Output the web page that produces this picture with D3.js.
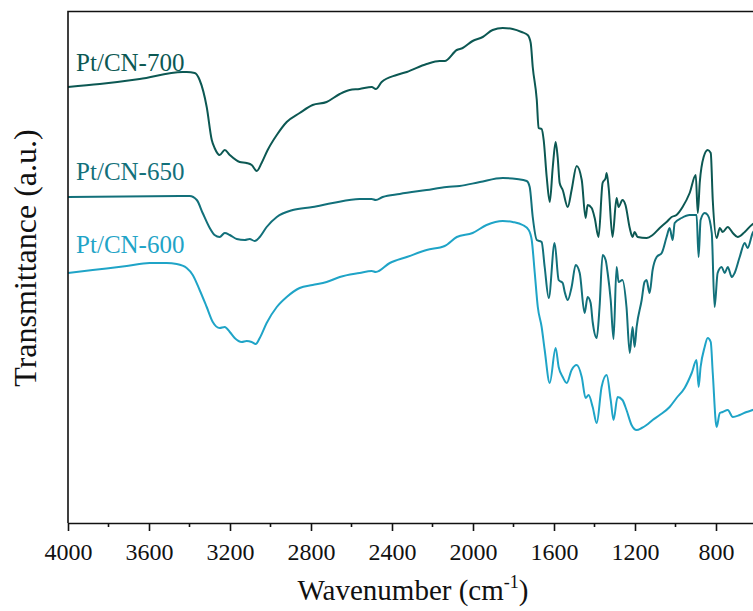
<!DOCTYPE html>
<html>
<head>
<meta charset="utf-8">
<script src="https://cdnjs.cloudflare.com/ajax/libs/d3/7.8.5/d3.min.js"></script>
<style>
  body { margin: 0; background: #fff; }
  svg { display: block; }
  text { font-family: "Liberation Serif", "Times New Roman", serif; }
</style>
</head>
<body>
<script>

var w = 753,
    h = 611;

// [wavenumber, transmittance a.u.]
var pt700 = [
  [4000,436],[3843,439],[3646,444],[3434,451],[3414,451],[3374,450],[3350,443],[3315,416],[3290,383],
  [3276,375],[3251,368],[3226,373],[3201,368],[3152,361],[3118,360],[3093,358],[3068,352],[3044,360],
  [3014,373],[2969,388],[2920,401],[2856,410],[2792,418],[2723,421],[2658,429],[2609,433],[2560,434],
  [2500,436],[2480,434],[2451,441],[2377,448],[2327,451],[2229,459],[2165,462],[2140,462],[2080,473],
  [2051,475],[2002,482],[1952,486],[1903,493],[1853,495],[1804,494],[1760,491],[1730,488],[1715,480],
  [1705,456],[1685,423],[1676,395],[1661,394],[1651,383],[1636,346],[1621,321],[1606,356],[1592,381],
  [1582,366],[1572,340],[1557,333],[1532,316],[1513,333],[1488,357],[1463,343],[1444,305],[1434,318],
  [1414,315],[1399,305],[1380,286],[1360,340],[1345,345],[1340,350],[1330,335],[1311,286],[1291,325],
  [1281,316],[1262,323],[1247,318],[1226,295],[1212,286],[1202,291],[1187,286],[1143,285],[1113,288],
  [1078,295],[1044,301],[1019,306],[995,308],[965,316],[930,330],[900,348],[890,310],[880,341],
  [861,366],[841,373],[826,370],[816,323],[797,285],[781,295],[767,291],[742,296],[717,290],
  [693,286],[658,291],[624,298],[600,301]
];

var pt650 = [
  [4000,326],[3399,327],[3364,323],[3335,310],[3300,295],[3276,288],[3251,286],[3226,290],[3201,288],
  [3167,284],[3127,283],[3103,284],[3078,282],[3053,286],[3019,296],[2969,306],[2890,313],[2792,316],
  [2693,320],[2560,324],[2500,324],[2480,323],[2446,326],[2362,329],[2229,333],[2130,336],[2066,337],
  [1966,341],[1853,345],[1784,344],[1735,342],[1720,336],[1705,306],[1685,283],[1671,282],[1661,281],
  [1646,256],[1626,225],[1597,280],[1577,243],[1557,240],[1547,231],[1532,223],[1513,236],[1493,258],
  [1473,250],[1449,210],[1434,226],[1419,220],[1409,201],[1389,185],[1375,216],[1360,268],[1345,263],
  [1335,250],[1320,223],[1306,184],[1291,256],[1281,241],[1262,243],[1242,216],[1226,170],[1212,196],
  [1202,176],[1192,196],[1167,223],[1153,241],[1143,243],[1128,230],[1113,253],[1093,266],[1068,270],
  [1044,286],[1029,295],[1014,283],[1004,300],[970,305],[930,308],[896,308],[886,266],[876,303],
  [856,310],[841,308],[821,290],[807,216],[792,250],[772,256],[757,250],[742,256],[722,246],
  [708,250],[683,266],[658,280],[644,275],[619,290],[600,295]
];

var pt600 = [
  [4000,250],[3878,253],[3710,257],[3597,260],[3513,260],[3463,259],[3414,255],[3384,248],[3350,233],
  [3315,216],[3285,201],[3251,195],[3226,196],[3201,191],[3177,185],[3142,181],[3118,182],[3093,181],
  [3073,179],[3053,185],[3019,200],[2969,216],[2920,226],[2856,235],[2792,238],[2723,241],[2658,246],
  [2560,250],[2500,252],[2480,251],[2411,260],[2327,266],[2229,273],[2140,277],[2080,286],[2002,290],
  [1933,298],[1853,302],[1804,301],[1755,298],[1725,293],[1710,283],[1695,250],[1680,216],[1661,196],
  [1646,173],[1621,140],[1592,175],[1577,156],[1557,146],[1537,140],[1513,153],[1488,158],[1463,146],
  [1444,125],[1429,128],[1409,116],[1389,100],[1365,136],[1340,148],[1320,123],[1306,103],[1286,126],
  [1262,123],[1242,113],[1217,98],[1192,93],[1167,95],[1143,98],[1113,103],[1078,108],[1029,116],
  [995,125],[955,135],[920,150],[896,163],[886,136],[876,156],[856,176],[841,185],[826,181],
  [816,150],[797,96],[781,110],[767,111],[742,113],[717,106],[683,108],[649,111],[619,113],[600,115]
];

var names = ["Pt/CN-700", "Pt/CN-650", "Pt/CN-600"],
    colors = ["#0c5853", "#12707a", "#1fa4c7"],
    series = [pt700, pt650, pt600],
    // label anchor [wavenumber, value]
    labelPos = [[3960, 452], [3960, 343], [3960, 270]];

var xTicks = [4000, 3600, 3200, 2800, 2400, 2000, 1600, 1200, 800],
    xMinor = d3.range(3800, 400, -400);

var margin = { left: 68, top: 11.5, bottom: 523 };

var x = d3.scaleLinear().domain([4000, 400]).range([margin.left, margin.left + 3600 * 0.2025]);
var y = d3.scaleLinear().domain([0, 511.5]).range([margin.bottom, margin.top]);

var svg = d3.select("body").append("svg")
  .attr("width", w)
  .attr("height", h);

// curves
var line = d3.line()
  .x(function(d) { return x(d[0]); })
  .y(function(d) { return y(d[1]); })
  .curve(d3.curveMonotoneX);

svg.append("g")
  .selectAll("path")
  .data(series)
  .enter().append("path")
    .attr("d", line)
    .attr("fill", "none")
    .attr("stroke", function(d, i) { return colors[i]; })
    .attr("stroke-width", 2)
    .attr("stroke-linejoin", "round");

// labels
svg.append("g")
  .selectAll("text")
  .data(names)
  .enter().append("text")
    .attr("x", function(d, i) { return x(labelPos[i][0]); })
    .attr("y", function(d, i) { return y(labelPos[i][1]); })
    .attr("fill", function(d, i) { return colors[i]; })
    .attr("font-size", 25)
    .text(function(d) { return d; });

// frame (top + left; right side falls outside the picture)
svg.append("path")
  .attr("d", "M" + x(400) + "," + margin.top + "H" + margin.left + "V" + margin.bottom)
  .attr("fill", "none")
  .attr("stroke", "#111")
  .attr("stroke-width", 1.6);

// bottom axis
var xAxis = svg.append("g")
  .attr("transform", "translate(0," + margin.bottom + ")")
  .call(d3.axisBottom(x).tickValues(xTicks).tickFormat(d3.format("d"))
    .tickSize(8).tickSizeOuter(0).tickPadding(12));

xAxis.select(".domain").attr("stroke", "#111").attr("stroke-width", 1.6);
xAxis.selectAll(".tick line").attr("stroke", "#111").attr("stroke-width", 1.6);
xAxis.selectAll(".tick text")
  .attr("font-size", 24)
  .attr("fill", "#111");

svg.append("g")
  .attr("transform", "translate(0," + margin.bottom + ")")
  .selectAll("line")
  .data(xMinor)
  .enter().append("line")
    .attr("x1", function(d) { return x(d); })
    .attr("x2", function(d) { return x(d); })
    .attr("y2", 4)
    .attr("stroke", "#111")
    .attr("stroke-width", 1.6);

// axis titles
var xt = svg.append("text")
  .attr("x", 413)
  .attr("y", 600)
  .attr("text-anchor", "middle")
  .attr("font-size", 29)
  .attr("fill", "#111");
xt.append("tspan").text("Wavenumber (cm");
xt.append("tspan").attr("font-size", 18).attr("dy", -12).text("-1");
xt.append("tspan").attr("dy", 12).text(")");

svg.append("text")
  .attr("transform", "translate(36,258)rotate(-90)")
  .attr("text-anchor", "middle")
  .attr("font-size", 32)
  .attr("fill", "#111")
  .text("Transmittance (a.u.)");

</script>
</body>
</html>
